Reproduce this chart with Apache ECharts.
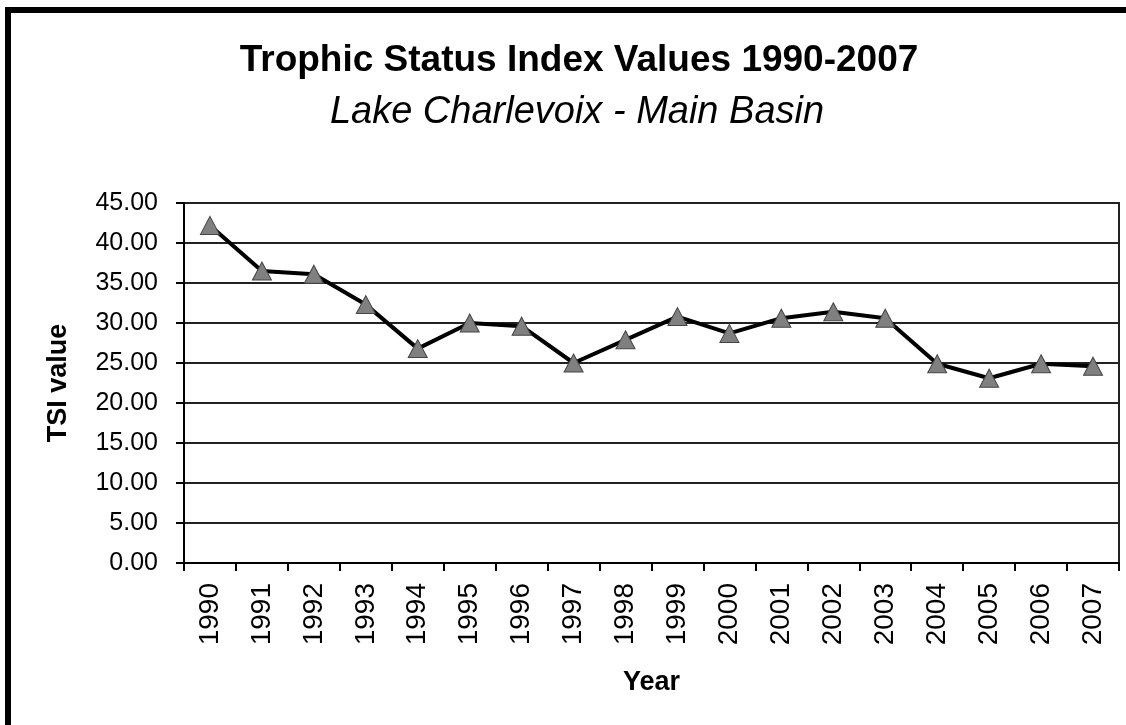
<!DOCTYPE html>
<html>
<head>
<meta charset="utf-8">
<script src="https://cdn.jsdelivr.net/npm/echarts@6/dist/echarts.min.js"></script>
<style>
  html, body { margin: 0; padding: 0; background: #fff; overflow: hidden; }
  #tsiChart { position: absolute; left: 0; top: 0; width: 1126px; height: 725px; }
  #frame { position: absolute; left: 5px; top: 7px; width: 1200px; height: 800px;
           border-left: 6px solid #000; border-top: 6px solid #000; pointer-events: none; }
</style>
</head>
<body>
<div id="tsiChart"></div>
<div id="frame"></div>
<script>
var years = ['1990', '1991', '1992', '1993', '1994', '1995', '1996', '1997', '1998',
             '1999', '2000', '2001', '2002', '2003', '2004', '2005', '2006', '2007'];
var tsiValues = [42.2, 36.5, 36.1, 32.3, 26.8, 30.0, 29.6, 25.0, 27.9,
                 30.8, 28.7, 30.6, 31.4, 30.6, 24.9, 23.1, 24.9, 24.6];

var myChart = echarts.init(document.getElementById('tsiChart'));
var font = 'Arial, "Liberation Sans", sans-serif';
var option = {
    backgroundColor: '#fff',
    title: [{
        text: 'Trophic Status Index Values 1990-2007',
        left: 574,
        top: 37,
        textAlign: 'center',
        textStyle: { fontFamily: font, fontSize: 37, fontWeight: 'bold', color: '#000' }
    }, {
        text: 'Lake Charlevoix - Main Basin',
        left: 572,
        top: 88,
        textAlign: 'center',
        textStyle: { fontFamily: font, fontSize: 38, fontStyle: 'italic', fontWeight: 'normal', color: '#000' }
    }],
    grid: {
        left: 184,
        top: 203,
        right: 7,
        bottom: 162,
        show: true,
        borderColor: '#222',
        borderWidth: 2
    },
    xAxis: {
        type: 'category',
        data: years,
        boundaryGap: true,
        name: 'Year',
        nameLocation: 'middle',
        nameGap: 106,
        nameTextStyle: { fontFamily: font, fontSize: 27, fontWeight: 'bold', color: '#000' },
        axisLine: { lineStyle: { color: '#000', width: 2 } },
        axisTick: { show: true, length: 8, lineStyle: { color: '#000', width: 2 } },
        axisLabel: { rotate: 90, margin: 20, fontFamily: font, fontSize: 28, color: '#000' },
        splitLine: { show: false }
    },
    yAxis: {
        type: 'value',
        min: 0,
        max: 45,
        interval: 5,
        name: 'TSI value',
        nameLocation: 'middle',
        nameGap: 112,
        nameTextStyle: { fontFamily: font, fontSize: 27, fontWeight: 'bold', color: '#000' },
        axisLine: { show: true, lineStyle: { color: '#000', width: 2 } },
        axisTick: { show: true, length: 8, lineStyle: { color: '#000', width: 2 } },
        axisLabel: {
            margin: 26,
            fontFamily: font,
            fontSize: 25,
            color: '#000',
            formatter: function (v) { return v.toFixed(2); }
        },
        splitLine: { show: true, lineStyle: { color: '#222', width: 2 } }
    },
    series: [{
        name: 'TSI',
        type: 'line',
        data: tsiValues,
        symbol: 'triangle',
        symbolSize: [19, 18],
        lineStyle: { color: '#000', width: 4 },
        itemStyle: { color: '#808080', borderColor: '#444', borderWidth: 1 },
        animation: false
    }]
};
myChart.setOption(option);
</script>
</body>
</html>
